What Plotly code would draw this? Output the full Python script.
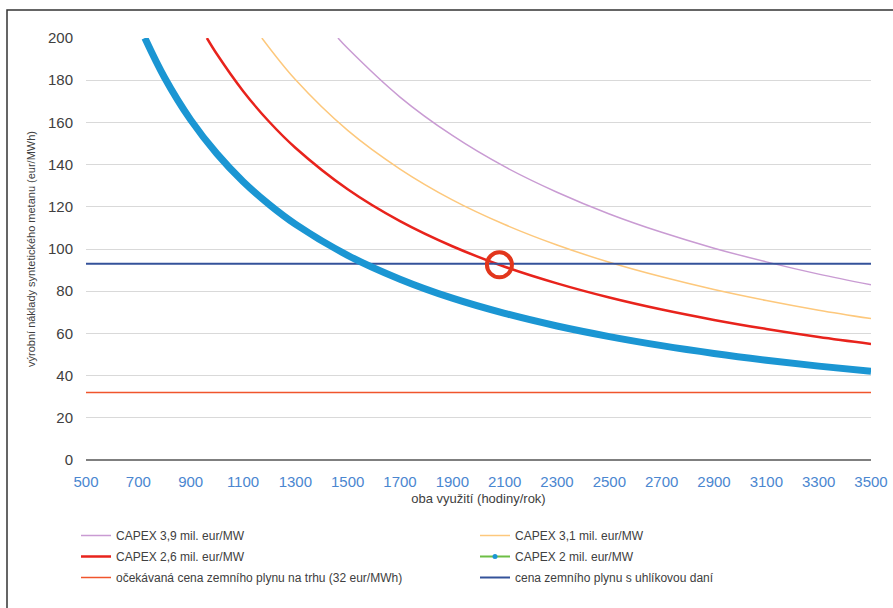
import plotly.graph_objects as go

# hours of utilisation (x) and production cost (eur/MWh)
x_capex2 = [725, 800, 900, 1000, 1100, 1200, 1300, 1500, 1700, 1900, 2100, 2300, 2500, 2700, 2900, 3100, 3300, 3500]
y_capex2 = [200, 181.3, 161.2, 145.2, 132.0, 121.1, 111.8, 97.0, 85.7, 76.7, 69.5, 63.5, 58.5, 54.2, 50.5, 47.3, 44.5, 42.0]

x_capex26 = [962, 1000, 1100, 1200, 1300, 1500, 1700, 1900, 2100, 2300, 2500, 2700, 2900, 3100, 3300, 3500]
y_capex26 = [200, 192.4, 174.9, 160.3, 148.0, 128.3, 113.2, 101.3, 91.6, 83.7, 77.0, 71.3, 66.4, 62.1, 58.3, 55.0]

x_capex31 = [1172, 1300, 1500, 1700, 1900, 2100, 2300, 2500, 2700, 2900, 3100, 3300, 3500]
y_capex31 = [200, 180.3, 156.2, 137.9, 123.3, 111.6, 101.9, 93.7, 86.8, 80.8, 75.6, 71.0, 67.0]

x_capex39 = [1463, 1500, 1700, 1900, 2100, 2300, 2500, 2700, 2900, 3100, 3300, 3500]
y_capex39 = [200, 195.1, 172.0, 153.8, 139.0, 126.9, 116.6, 107.9, 100.4, 93.9, 88.1, 83.0]

x_range = [500, 3500]
gas_market = [32, 32]
gas_carbon = [93, 93]

circle_x = [2080]
circle_y = [92.5]

x_ticks = list(range(500, 3501, 200))
y_ticks = list(range(0, 201, 20))

names = [
    "CAPEX 3,9 mil. eur/MW",
    "CAPEX 3,1 mil. eur/MW",
    "CAPEX 2,6 mil. eur/MW",
    "CAPEX 2 mil. eur/MW",
    "očekávaná cena zemního plynu na trhu (32 eur/MWh)",
    "cena zemního plynu s uhlíkovou daní",
]

fig = go.Figure()

fig.add_trace(go.Scatter(x=x_capex39, y=y_capex39, mode="lines", name=names[0], legend="legend",
                         legendgroup="g1",
                         line=dict(color="#C99BD3", width=1.5, shape="spline")))
fig.add_trace(go.Scatter(x=x_capex31, y=y_capex31, mode="lines", name=names[1], legend="legend2",
                         legendgroup="g2",
                         line=dict(color="#FDC87C", width=1.5, shape="spline")))
fig.add_trace(go.Scatter(x=x_capex26, y=y_capex26, mode="lines", name=names[2], legend="legend",
                         legendgroup="g3",
                         line=dict(color="#E8231C", width=2.5, shape="spline")))
# legend-only entry for CAPEX 2 (green line, blue dot, as in the reference legend)
fig.add_trace(go.Scatter(x=[None], y=[None], mode="lines+markers", name=names[3], legend="legend2",
                         legendgroup="g4",
                         line=dict(color="#6DBE45", width=2),
                         marker=dict(color="#1B96D3", size=5)))
fig.add_trace(go.Scatter(x=x_range, y=gas_market, mode="lines", name=names[4], legend="legend",
                         legendgroup="g5",
                         line=dict(color="#F0552C", width=1.5)))
fig.add_trace(go.Scatter(x=x_range, y=gas_carbon, mode="lines", name=names[5], legend="legend2",
                         legendgroup="g6",
                         line=dict(color="#34529A", width=2)))
fig.add_trace(go.Scatter(x=x_capex2, y=y_capex2, mode="lines", name=names[3],
                         showlegend=False,
                         line=dict(color="#1B96D3", width=7, shape="spline")))
fig.add_trace(go.Scatter(x=circle_x, y=circle_y, mode="markers", showlegend=False,
                         marker=dict(symbol="circle-open", size=25, color="#E2361C",
                                     line=dict(width=4, color="#E2361C"))))

leg_common = dict(orientation="v", yanchor="top", font=dict(size=12, color="#404040"),
                  traceorder="grouped", itemwidth=30, bgcolor="rgba(0,0,0,0)",
                  tracegroupgap=2)

fig.update_layout(
    width=893, height=608,
    margin=dict(l=86, r=22, t=38, b=148, autoexpand=False),
    paper_bgcolor="white", plot_bgcolor="white",
    font=dict(family="Liberation Sans, Arial, sans-serif", color="#404040"),
    legend=dict(x=(76 - 86) / 785, xanchor="left", y=-(61 / 422), **leg_common),
    legend2=dict(x=(475 - 86) / 785, xanchor="left", y=-(61 / 422), **leg_common),
    xaxis=dict(range=x_range, tickvals=x_ticks, showgrid=False, zeroline=False,
               tickfont=dict(size=15, color="#4A86D0"), ticks="", ticklabelstandoff=11,
               title=dict(text="oba využití (hodiny/rok)", font=dict(size=13, color="#404040"), standoff=4),
               showline=False),
    yaxis=dict(range=[0, 200], tickvals=y_ticks, showgrid=True, gridcolor="#D9D9D9",
               gridwidth=1, zeroline=True, zerolinecolor="#7F7F7F", zerolinewidth=2,
               tickfont=dict(size=15, color="#404040"), ticks="", ticklabelstandoff=12,
               title=dict(text="výrobní náklady syntetického metanu (eur/MWh)", font=dict(size=11, color="#404040"), standoff=10),
               showline=False),
    showlegend=True,
)

# outer frame
fig.add_shape(type="rect", xref="paper", yref="paper",
              x0=(7 - 86) / 785, x1=(900 - 86) / 785,
              y0=-(160 / 422), y1=1 + 28 / 422,
              line=dict(color="#333333", width=1.5), fillcolor="rgba(0,0,0,0)", layer="below")

fig.write_html("out.html")
